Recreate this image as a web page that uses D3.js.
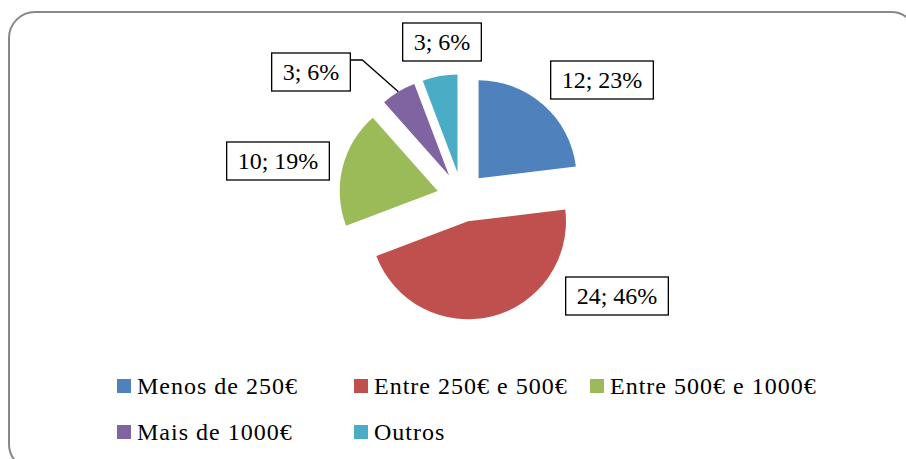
<!DOCTYPE html>
<html>
<head>
<meta charset="utf-8">
<script src="https://cdn.jsdelivr.net/npm/d3@7"></script>
<style>
  body { margin: 0; background: #fff; }
  text { font-family: "Liberation Serif", "Times New Roman", serif; fill: #000; }
</style>
</head>
<body>
<div id="chart"></div>
<script>
var categories = ["Menos de 250€", "Entre 250€ e 500€", "Entre 500€ e 1000€", "Mais de 1000€", "Outros"];
var values = [12, 24, 10, 3, 3];
var colors = ["#4F81BD", "#C0504D", "#9BBB59", "#8064A2", "#4BACC6"];

// label box centres (layout only)
var labelPos = [[602, 80], [617, 296], [278, 161], [311, 72], [442, 42]];

var width = 906, height = 459;
var cx = 462, cy = 197, radius = 98, explode = 25;

var svg = d3.select("#chart")
	.append("svg")
	.attr("width", width)
	.attr("height", height);

// chart frame
svg.append("rect")
	.attr("x", 9).attr("y", 12)
	.attr("width", 908).attr("height", 458)
	.attr("rx", 26).attr("ry", 26)
	.attr("fill", "none")
	.attr("stroke", "#888")
	.attr("stroke-width", 2);

var total = d3.sum(values);
var data = categories.map(function(c, i){ return {key: c, value: values[i], i: i}; });

var pie = d3.pie().sort(null).value(function(d){ return d.value; });
var arc = d3.arc().innerRadius(0).outerRadius(radius);
var arcs = pie(data);

function shift(d){
	var a = (d.startAngle + d.endAngle) / 2;
	return [Math.sin(a) * explode, -Math.cos(a) * explode];
}

var g = svg.append("g").attr("transform", "translate(" + cx + "," + cy + ")");

g.selectAll("path")
	.data(arcs)
	.enter()
	.append("path")
	.attr("d", arc)
	.attr("fill", function(d){ return colors[d.data.i]; })
	.attr("transform", function(d){ var s = shift(d); return "translate(" + s[0] + "," + s[1] + ")"; });

// leader line for purple slice
var p = arcs[3], ps = shift(p), pa = (p.startAngle + p.endAngle) / 2;
var tip = [cx + ps[0] + Math.sin(pa) * radius, cy + ps[1] - Math.cos(pa) * radius];

// labels
var labels = svg.selectAll(".lbl")
	.data(arcs)
	.enter()
	.append("g")
	.attr("class", "lbl")
	.attr("transform", function(d){ var q = labelPos[d.data.i]; return "translate(" + q[0] + "," + q[1] + ")"; });

labels.append("text")
	.attr("text-anchor", "middle")
	.attr("dy", "0.35em")
	.style("font-size", "24px")
	.text(function(d){ return d.data.value + "; " + Math.round(d.data.value / total * 100) + "%"; });

labels.each(function(d){
	var t = d3.select(this).select("text");
	var w = t.node().getComputedTextLength() + 22;
	d3.select(this).insert("rect", "text")
		.attr("x", -w / 2).attr("y", -19)
		.attr("width", w).attr("height", 38)
		.attr("fill", "#fff")
		.attr("stroke", "#000")
		.attr("stroke-width", 1.3);
	if (d.data.i === 3) {
		var bx = labelPos[3][0] + w / 2, by = labelPos[3][1] - 12;
		svg.append("polyline")
			.attr("points", [[bx, by], [bx + 12, by], tip].map(function(q){ return q.join(","); }).join(" "))
			.attr("fill", "none")
			.attr("stroke", "#000")
			.attr("stroke-width", 1.3);
	}
});

// legend
var legendX = [117, 354, 590];
var legendY = [386, 432];
var legend = svg.selectAll(".leg")
	.data(data)
	.enter()
	.append("g")
	.attr("class", "leg")
	.attr("transform", function(d, i){ return "translate(" + legendX[i % 3] + "," + legendY[Math.floor(i / 3)] + ")"; });

legend.append("rect")
	.attr("x", 0).attr("y", -7)
	.attr("width", 14).attr("height", 14)
	.attr("fill", function(d){ return colors[d.i]; });

legend.append("text")
	.attr("x", 20)
	.attr("y", 8)
	.style("font-size", "24px")
	.style("letter-spacing", "1px")
	.text(function(d){ return d.key; });
</script>
</body>
</html>
